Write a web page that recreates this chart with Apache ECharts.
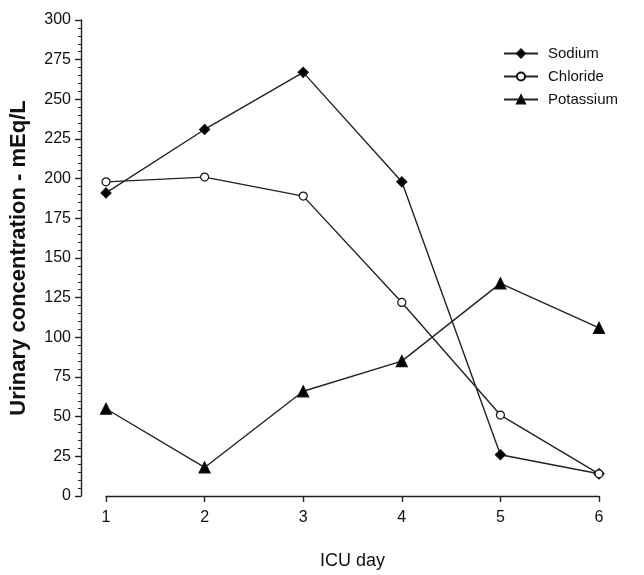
<!DOCTYPE html>
<html><head><meta charset="utf-8">
<script src="https://cdn.jsdelivr.net/npm/echarts@6/dist/echarts.min.js"></script>
<style>html,body{margin:0;padding:0;background:#fff}#c{width:644px;height:575px}</style>
</head><body><div id="c"></div>
<script>
var days = [1, 2, 3, 4, 5, 6];
var sodium = [191, 231, 267, 198, 26, 14];
var chloride = [198, 201, 189, 122, 51, 14];
var potassium = [55, 18, 66, 85, 134, 106];
var yTicks = [0, 25, 50, 75, 100, 125, 150, 175, 200, 225, 250, 275, 300];
var seriesNames = ['Sodium', 'Chloride', 'Potassium'];

var FONT = '"Liberation Sans", Arial, sans-serif';
function pairs(vals){ return days.map(function(d,i){ return [d, vals[i]]; }); }
var lineStyle = {color:'#222', width:1.4};
function mk(name, vals, symbol, size, fill){
  return {name:name, type:'line', data:pairs(vals), symbol:symbol, symbolSize:size,
    showSymbol:true, lineStyle:lineStyle,
    itemStyle:{color:fill, borderColor:'#111', borderWidth:1.2}, z: 3};
}
var chart = echarts.init(document.getElementById('c'));
chart.setOption({
  animation:false,
  backgroundColor:'#fff',
  grid:{left:103, right:45, top:20, bottom:75, containLabel:false},
  legend:{
    left:498, top:41, orient:'vertical', itemGap:8, itemWidth:34, itemHeight:10,
    textStyle:{fontFamily:FONT, fontSize:15, color:'#111', padding:[0,0,0,5]},
    data:seriesNames
  },
  xAxis:{
    type:'value', min:1, max:6, interval:1, offset:2,
    name:'ICU day', nameLocation:'middle', nameGap:54,
    nameTextStyle:{fontFamily:FONT, fontSize:18, color:'#111'},
    axisLine:{lineStyle:{color:'#222', width:1.4}},
    axisTick:{show:true, length:6, inside:false, lineStyle:{color:'#222', width:1.4}},
    axisLabel:{fontFamily:FONT, fontSize:16, color:'#111', margin:12},
    splitLine:{show:false}
  },
  yAxis:{
    type:'value', min:0, max:300, interval:25, offset:25,
    name:'Urinary concentration - mEq/L', nameLocation:'middle', nameGap:51,
    nameTextStyle:{fontFamily:FONT, fontSize:22, fontWeight:'bold', color:'#111'},
    axisLine:{show:true, lineStyle:{color:'#222', width:1.4}},
    axisTick:{show:true, length:6, lineStyle:{color:'#222', width:1.4}},
    minorTick:{show:true, splitNumber:5, length:3, lineStyle:{color:'#222', width:1}},
    axisLabel:{fontFamily:FONT, fontSize:16, color:'#111', margin:10,
      formatter:function(v){ return yTicks.indexOf(v) >= 0 ? String(v) : ''; }},
    splitLine:{show:false}
  },
  series:[
    mk('Sodium', sodium, 'diamond', 10, '#000'),
    mk('Chloride', chloride, 'circle', 8, '#fff'),
    mk('Potassium', potassium, 'triangle', 11, '#000')
  ]
});
</script></body></html>
